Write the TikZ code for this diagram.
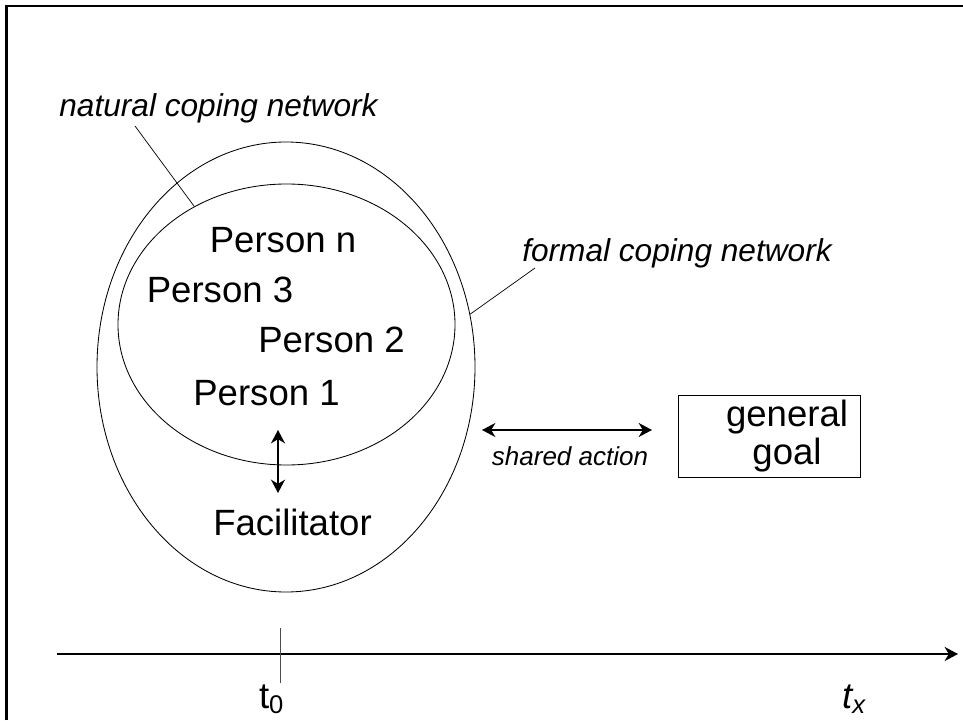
\documentclass[tikz,border=0pt]{standalone}
\usepackage{fontspec}
\setmainfont{Liberation Sans}
\usetikzlibrary{arrows.meta,shapes.geometric}

\tikzstyle{network} = [ellipse, draw, line width=0.6pt, inner sep=0pt]
\tikzstyle{member} = [anchor=base, inner sep=0pt, font=\fontsize{26}{30}\selectfont]
\tikzstyle{tag} = [anchor=base, inner sep=0pt, font=\fontsize{22.5}{26}\selectfont\itshape]
\tikzstyle{leader} = [line width=0.5pt]
\tikzstyle{twoway} = [line width=1.4pt, {Stealth[length=9.5pt,width=10pt,inset=3pt]}-{Stealth[length=9.5pt,width=10pt,inset=3pt]}]

\begin{document}
\begin{tikzpicture}
	\useasboundingbox (0,0) rectangle (24.075,18);
	% frame
	\draw[line width=1.8pt] (0.1625,0) |- (24.075,17.85);

	% the two coping networks
	\node [network, minimum width=9.45cm, minimum height=11.25cm] (formal) at (7.15,8.825) {};
	\node [network, minimum width=8.425cm, minimum height=7.025cm] (natural) at (7.1625,9.8875) {};

	\node [tag] (natlabel) at (5.4625,15.075) {natural coping network};
	\node [tag] (formlabel) at (16.925,11.45) {formal coping network};
	\coordinate (natfoot) at (3.375,14.85);
	\coordinate (formfoot) at (13.375,11.3);
	\draw[leader] (natfoot) -- (natural.128);
	\draw[leader] (formfoot) -- (formal.16);

	% members
	\node [member] (pn) at (7.075,11.675) {Person n};
	\node [member] (p3) at (5.5,10.45) {Person 3};
	\node [member] (p2) at (8.2875,9.2) {Person 2};
	\node [member] (p1) at (6.6625,7.875) {Person 1};
	\node [member] (fac) at (7.3125,4.625) {Facilitator};
	\coordinate (p1foot) at (6.95,7.25);
	\coordinate (fachead) at (6.95,5.675);
	\draw[twoway] (p1foot) -- (fachead);

	% shared action towards the goal
	\node [draw, line width=0.6pt, minimum width=4.55cm, minimum height=2.05cm] (goal) at (19.225,7.1) {};
	\node [align=center, inner sep=0pt, font=\fontsize{26}{27}\selectfont] (goaltext) at (19.675,7.09) {general\\goal};
	\coordinate (actleft) at (12.05,7.25);
	\coordinate (actright) at (16.3,7.25);
	\draw[twoway] (actleft) -- (actright);
	\node [anchor=base, inner sep=0pt, font=\fontsize{18.5}{22}\selectfont\itshape] (act) at (14.25,6.375) {shared action};

	% time axis
	\coordinate (tstart) at (1.425,1.65);
	\coordinate (tend) at (23.95,1.65);
	\draw[line width=1.5pt, -{Stealth[length=9.5pt,width=10pt,inset=3pt]}] (tstart) -- (tend);
	\coordinate (tick top) at (7.0,2.3);
	\coordinate (tick bot) at (7.0,0.925);
	\draw[line width=0.5pt, black!70] (tick top) -- (tick bot);
	\node [member] (t0) at (6.79,0.3) {t\textsubscript{0}};
	\node [member] (tx) at (21.35,0.3) {\itshape t\textsubscript{x}};
\end{tikzpicture}
\end{document}
